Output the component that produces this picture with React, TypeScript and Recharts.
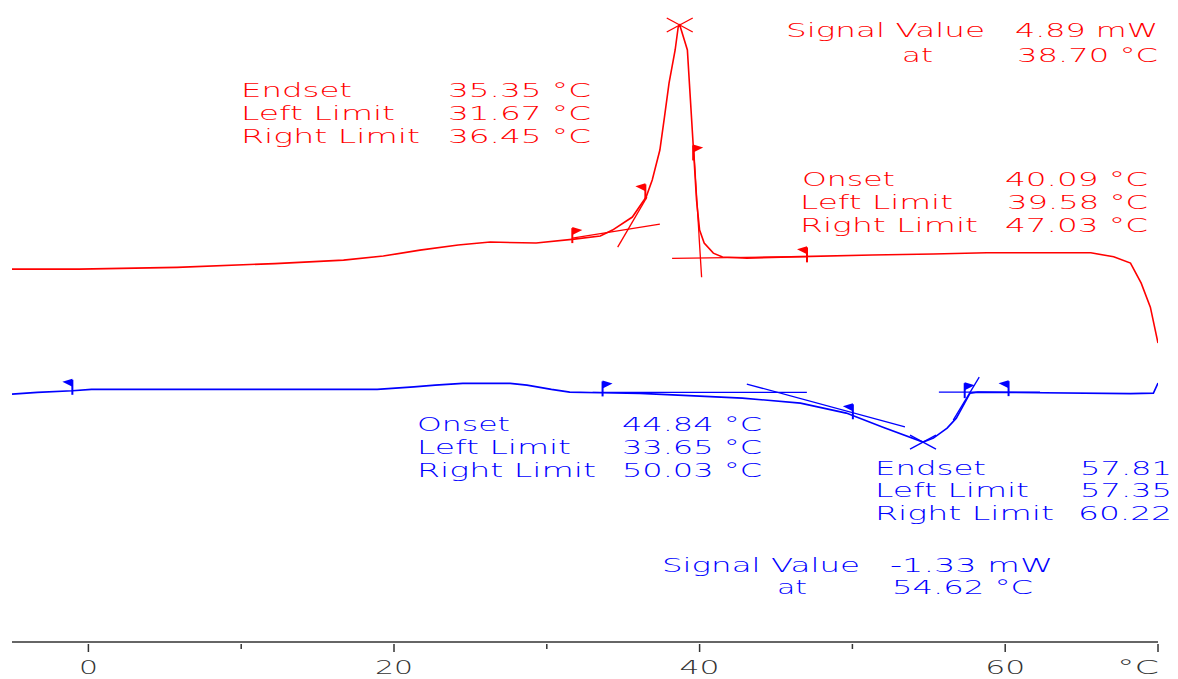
import React from 'react';
import { LineChart, Line, XAxis, YAxis, ReferenceLine, ReferenceDot } from 'recharts';

const W = 1178;
const H = 679;
const RED = '#ff0000';
const BLUE = '#0000ff';
const FONT = '"DejaVu Sans", "Liberation Sans", sans-serif';

// Heating curve (red): temperature (°C) and signal (mW)
const RED_T = [-5, -0.6, 5.8, 12.2, 16.7, 19.3, 21.7, 24.2, 26.3, 29.3, 31.8, 33.5, 34.3, 35.6, 36.5, 36.9, 37.4, 37.7, 38.0, 38.4, 38.6, 38.7, 39.2, 39.4, 39.6, 39.8, 40.0, 40.3, 40.9, 41.5, 43.1, 46.6, 51.3, 55.3, 58.8, 65.6, 67.1, 68.2, 68.9, 69.5, 70.0];
const RED_MW = [1.25, 1.25, 1.275, 1.332, 1.384, 1.444, 1.533, 1.608, 1.653, 1.638, 1.697, 1.742, 1.832, 2.026, 2.324, 2.578, 3.025, 3.517, 4.024, 4.517, 4.86, 4.89, 4.517, 3.771, 3.025, 2.279, 1.832, 1.638, 1.488, 1.429, 1.414, 1.436, 1.459, 1.474, 1.493, 1.493, 1.433, 1.339, 1.04, 0.683, 0.146];

// Cooling curve (blue)
const BLUE_T = [-5, -3.34, -1.05, 0.2, 18.9, 21.3, 22.7, 24.5, 27.6, 28.7, 30.3, 31.5, 33.5, 36.1, 40.0, 42.8, 46.6, 49.6, 52.0, 54.62, 55.3, 56.2, 56.8, 57.2, 57.7, 58.2, 68.2, 69.7, 70.0];
const BLUE_MW = [-0.614, -0.589, -0.565, -0.544, -0.544, -0.506, -0.48, -0.455, -0.455, -0.48, -0.544, -0.585, -0.595, -0.604, -0.644, -0.674, -0.749, -0.898, -1.107, -1.33, -1.271, -1.122, -0.973, -0.809, -0.6, -0.585, -0.607, -0.6, -0.45];

// Axis ticks
const X_TICKS = [0, 10, 20, 30, 40, 50, 60, 70];
const X_TICK_LABELS = ['0', '', '20', '', '40', '', '60', '°C'];
const X_DOMAIN = [-5, 70];
const Y_DOMAIN = [-4.311, 5.188];

// Evaluation tangents / baselines
const TANGENT_T1 = [31.67, 34.64, 38.2, 40.13, 33.0, 43.09, 55.66, 58.3];
const TANGENT_V1 = [1.712, 1.578, 1.41, 1.128, -0.589, -0.465, -0.585, -0.361];
const TANGENT_T2 = [37.4, 36.55, 47.03, 39.62, 47.02, 53.44, 62.28, 56.6];
const TANGENT_V2 = [1.921, 2.324, 1.436, 3.025, -0.589, -1.102, -0.585, -1.003];
const TANGENT_C = ['r', 'r', 'r', 'r', 'b', 'b', 'b', 'b'];

// Limit flags
const FLAG_T = [31.67, 36.45, 39.58, 47.03, -1.05, 33.65, 50.03, 57.35, 60.22];
const FLAG_V = [1.697, 2.35, 2.93, 1.41, -0.565, -0.589, -0.93, -0.615, -0.585];
const FLAG_DIR = ['right', 'left', 'right', 'left', 'left', 'right', 'left', 'right', 'left'];
const FLAG_C = ['r', 'r', 'r', 'r', 'b', 'b', 'b', 'b', 'b'];

// Peak markers
const PEAK_T = [38.7, 54.62];
const PEAK_V = [4.89, -1.33];
const PEAK_C = ['r', 'b'];

// Annotation texts
const NOTE_TEXT = [
  'Signal Value', '4.89 mW', 'at', '38.70 °C',
  'Endset', '35.35 °C', 'Left Limit', '31.67 °C', 'Right Limit', '36.45 °C',
  'Onset', '40.09 °C', 'Left Limit', '39.58 °C', 'Right Limit', '47.03 °C',
  'Onset', '44.84 °C', 'Left Limit', '33.65 °C', 'Right Limit', '50.03 °C',
  'Endset', '57.81', 'Left Limit', '57.35', 'Right Limit', '60.22',
  'Signal Value', '-1.33 mW', 'at', '54.62 °C',
];
const NOTE_X = [786, 1015, 902, 1017, 241, 448, 241, 448, 241, 448, 802, 1005, 800, 1007, 800, 1005, 417, 622, 417, 622, 417, 622, 875, 1080, 875, 1080, 875, 1078, 662, 890, 777, 892];
const NOTE_Y = [37, 37, 62, 62, 97, 97, 120, 120, 143, 143, 186, 186, 209, 209, 232, 232, 431, 431, 454, 454, 477, 477, 475, 475, 497, 497, 520, 520, 572, 572, 594, 594];
const NOTE_LEN = [199, 143, 31, 141, 111, 143, 154, 143, 179, 143, 93, 143, 153, 141, 178, 143, 93, 140, 154, 140, 179, 140, 111, 92, 154, 92, 179, 94, 198, 163, 30, 141];
const NOTE_C = ['r', 'r', 'r', 'r', 'r', 'r', 'r', 'r', 'r', 'r', 'r', 'r', 'r', 'r', 'r', 'r', 'b', 'b', 'b', 'b', 'b', 'b', 'b', 'b', 'b', 'b', 'b', 'b', 'b', 'b', 'b', 'b'];

const col = (c: string) => (c === 'r' ? RED : BLUE);

const redData = RED_T.map((t, i) => ({ t, v: RED_MW[i] }));
const blueData = BLUE_T.map((t, i) => ({ t, v: BLUE_MW[i] }));

const TICK_W: Record<string, number> = { '0': 19, '20': 38, '40': 40, '60': 40, '°C': 42 };

const AxisTick = (props: any) => {
  const { x, y, payload } = props;
  const i = X_TICKS.indexOf(payload.value);
  const label = i >= 0 ? X_TICK_LABELS[i] : '';
  const major = label !== '';
  const last = payload.value === X_TICKS[X_TICKS.length - 1];
  return (
    <g>
      <line x1={x} x2={x} y1={y + 2} y2={y + (major ? 10 : 7)} stroke="#333" strokeWidth={1.5} />
      {label && (
        <text
          x={last ? x + 1 : x}
          y={y + 32}
          textAnchor={last ? 'end' : 'middle'}
          fontFamily={FONT}
          fontWeight={200}
          fontSize={19}
          fill="#333"
          textLength={TICK_W[label]}
          lengthAdjust="spacingAndGlyphs"
        >
          {label}
        </text>
      )}
    </g>
  );
};

const Flag = ({ cx, cy, dir, color }: any) => {
  const s = dir === 'left' ? -1 : 1;
  return (
    <g>
      <line x1={cx} y1={cy - 11} x2={cx} y2={cy + 4} stroke={color} strokeWidth={2} />
      <polygon points={`${cx},${cy - 12} ${cx + s * 10},${cy - 9} ${cx},${cy - 4}`} fill={color} />
    </g>
  );
};

const Cross = ({ cx, cy, color }: any) => (
  <g stroke={color} strokeWidth={1.3}>
    <line x1={cx - 13} y1={cy - 7} x2={cx + 13} y2={cy + 7} />
    <line x1={cx - 13} y1={cy + 7} x2={cx + 13} y2={cy - 7} />
  </g>
);

export default function App() {
  return (
    <div style={{ position: 'absolute', left: 0, top: 0, width: W, height: H, background: '#fff' }}>
      <LineChart width={W} height={H} margin={{ top: 5, right: 20, bottom: 36, left: 12 }}>
        <XAxis
          type="number"
          dataKey="t"
          domain={X_DOMAIN}
          ticks={X_TICKS}
          allowDataOverflow
          height={1}
          tickSize={0}
          tickMargin={0}
          tickLine={false}
          axisLine={{ stroke: '#333', strokeWidth: 1.5 }}
          tick={<AxisTick />}
          interval={0}
        />
        <YAxis type="number" dataKey="v" domain={Y_DOMAIN} allowDataOverflow hide />
        {TANGENT_T1.map((t, i) => (
          <ReferenceLine
            key={'tg' + i}
            segment={[{ x: t, y: TANGENT_V1[i] }, { x: TANGENT_T2[i], y: TANGENT_V2[i] }]}
            stroke={col(TANGENT_C[i])}
            strokeWidth={1.3}
            ifOverflow="visible"
          />
        ))}
        <Line data={redData} dataKey="v" type="linear" stroke={RED} strokeWidth={1.6} dot={false} isAnimationActive={false} />
        <Line data={blueData} dataKey="v" type="linear" stroke={BLUE} strokeWidth={1.6} dot={false} isAnimationActive={false} />
        {FLAG_T.map((t, i) => (
          <ReferenceDot
            key={'fl' + i}
            x={t}
            y={FLAG_V[i]}
            r={1}
            ifOverflow="visible"
            shape={(p: any) => <Flag cx={p.cx} cy={p.cy} dir={FLAG_DIR[i]} color={col(FLAG_C[i])} />}
          />
        ))}
        {PEAK_T.map((t, i) => (
          <ReferenceDot
            key={'pk' + i}
            x={t}
            y={PEAK_V[i]}
            r={1}
            ifOverflow="visible"
            shape={(p: any) => <Cross cx={p.cx} cy={p.cy} color={col(PEAK_C[i])} />}
          />
        ))}
      </LineChart>
      <svg width={W} height={H} style={{ position: 'absolute', left: 0, top: 0, pointerEvents: 'none' }}>
        {NOTE_TEXT.map((s, i) => (
          <text
            key={'nt' + i}
            x={NOTE_X[i]}
            y={NOTE_Y[i]}
            fontFamily={FONT}
            fontWeight={200}
            fontSize={19}
            fill={col(NOTE_C[i])}
            textLength={NOTE_LEN[i]}
            lengthAdjust="spacingAndGlyphs"
          >
            {s}
          </text>
        ))}
      </svg>
    </div>
  );
}
